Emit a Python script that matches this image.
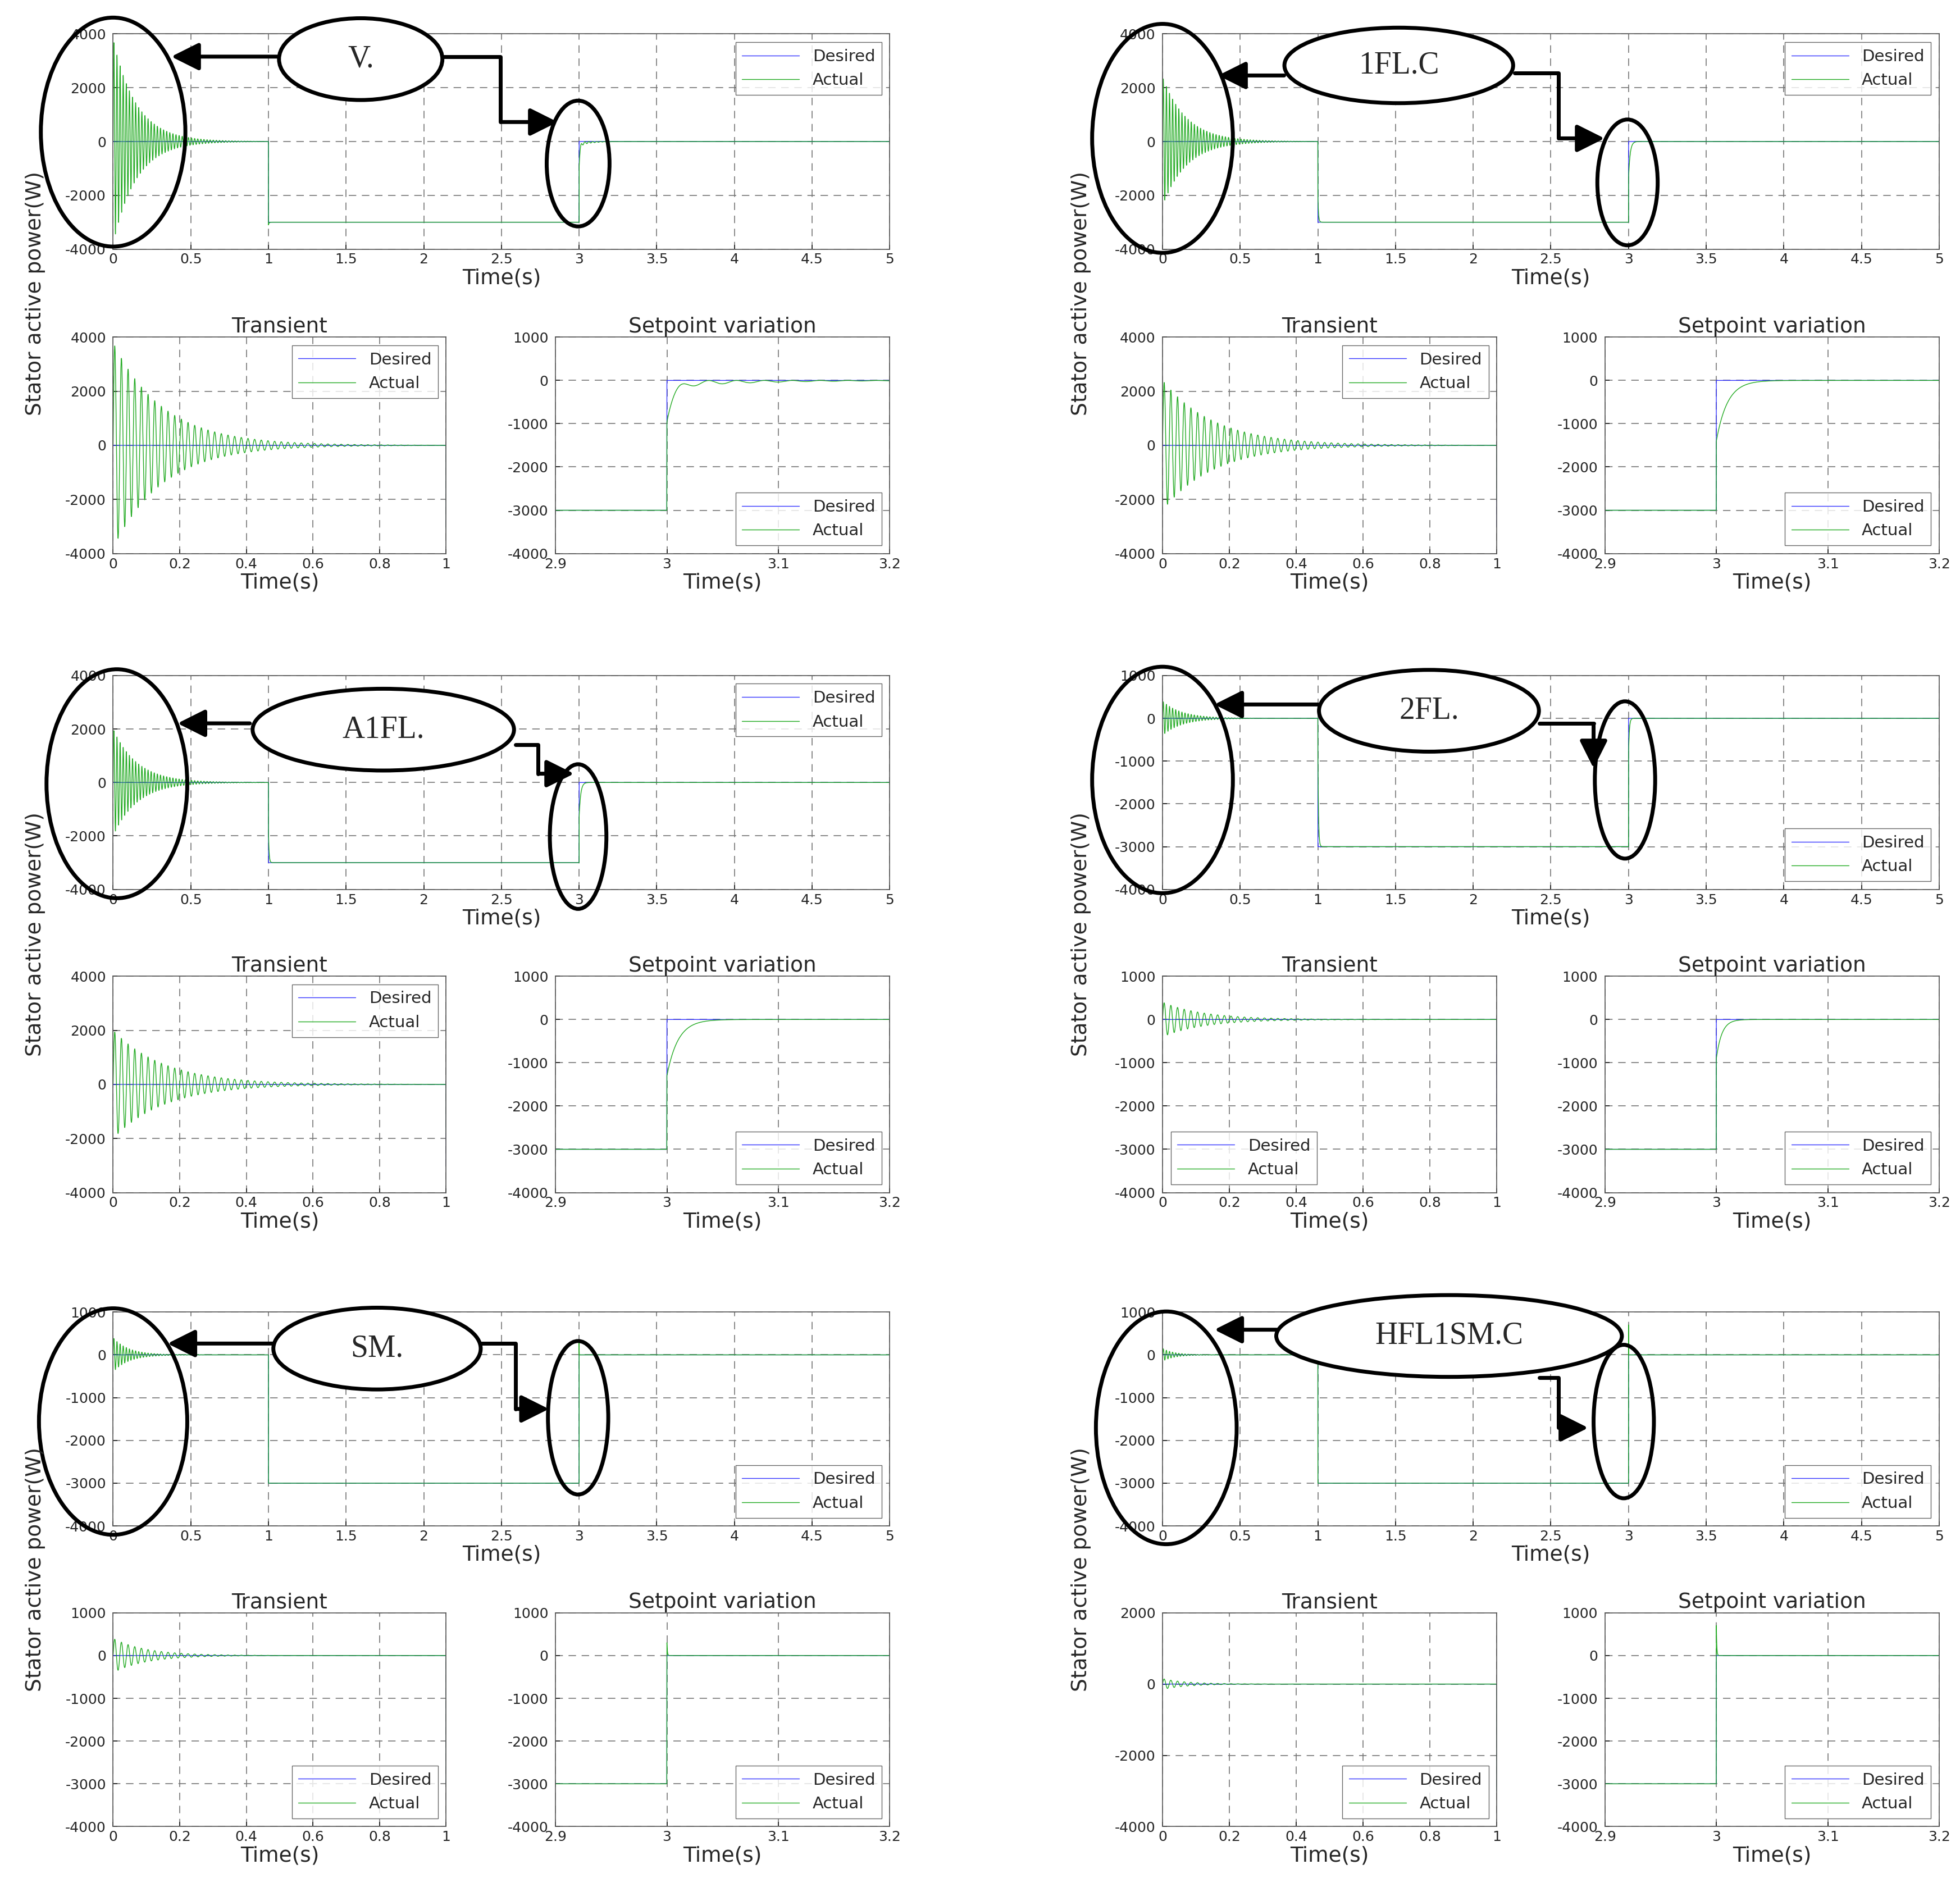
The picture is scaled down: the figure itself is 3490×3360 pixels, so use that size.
import numpy as np, pandas as pd, seaborn as sns, matplotlib
matplotlib.use("Agg")
import matplotlib.pyplot as plt
from matplotlib.patches import Ellipse

sns.set_theme(style="ticks")
plt.rcParams['font.family'] = ['DejaVu Sans']

names = ["V.", "1FL.C", "A1FL.", "2FL.", "SM.", "HFL1SM.C"]
amp0 = [3800, 2400, 2000, 400, 400, 150]        # transient start amplitude (W)
decay_end = [0.6, 0.62, 0.62, 0.5, 0.4, 0.3]   # s, transient vanishes
osc_freq = [50, 50, 50, 50, 50, 50]            # Hz
under3 = [-800, -1400, -1300, -900, 300, 700]   # value just after t=3 step
recov3 = [0.006, 0.01, 0.01, 0.005, 0.0004, 0.0004]
spike1 = [-3100, -2000, -1800, -700, -3000, -3000]
top_ylim = [(-4000, 4000)]*3 + [(-4000, 1000)]*3
bl_ylim = [(-4000, 4000)]*3 + [(-4000, 1000), (-4000, 1000), (-4000, 2000)]

W, H = 1560.0, 1500.0
fig = plt.figure(figsize=(34.91, 33.60), dpi=100)
def fx(x): return x / W
def fy(y): return 1 - y / H
def axes_px(x0, y0, x1, y1):
    return fig.add_axes([fx(x0), fy(y1), (x1 - x0) / W, (y1 - y0) / H])

t = np.arange(0, 5.0001, 1e-4)
def signals(i):
    d = np.where((t >= 1) & (t < 3), -3000.0, 0.0)
    tau = decay_end[i] / 4
    a = np.where(t < 1, amp0[i] * np.exp(-t / tau) * np.sin(2 * np.pi * osc_freq[i] * t), 0.0)
    m1 = (t >= 1) & (t < 3)
    a = a + np.where(m1, -3000 + (spike1[i] + 3000) * np.exp(-(t - 1) / 0.004), 0)
    m3 = t >= 3
    dt = t - 3
    if i == 0:
        r = under3[i] * np.exp(-dt / recov3[i]) - 160 * np.exp(-dt / 0.07) * (1 + np.cos(2 * np.pi * 40 * dt)) / 2
    else:
        r = under3[i] * np.exp(-dt / recov3[i])
    a = a + np.where(m3, r, 0)
    return d, a

fs_tick, fs_lab, fs_leg = 18, 27, 21
def style(ax, xlim, xt, ylim, yt, title=None):
    ax.set_xlim(*xlim); ax.set_ylim(*ylim)
    ax.set_xticks(xt); ax.set_yticks(yt)
    ax.set_xticklabels([("%g" % v) for v in xt], fontsize=fs_tick)
    ax.set_yticklabels([("%g" % v) for v in yt], fontsize=fs_tick)
    ax.grid(True, ls=(0, (8, 6)), color="#777777", lw=1.2)
    ax.set_xlabel("Time(s)", fontsize=fs_lab, labelpad=2)
    ax.set_ylabel("")
    for s in ax.spines.values():
        s.set_visible(True); s.set_color("#555555"); s.set_linewidth(1.2)
    ax.tick_params(direction="in", length=6, pad=5)
    ax.tick_params(axis="y", pad=9)
    if title: ax.set_title(title, fontsize=fs_lab, pad=6)

def draw(ax, i, lo, hi, loc):
    d, a = signals(i)
    m = (t >= lo) & (t <= hi)
    df = pd.DataFrame({"t": t[m], "Desired": d[m], "Actual": a[m]})
    sns.lineplot(data=df, x="t", y="Desired", ax=ax, color="#3333ff", lw=1.0, estimator=None, label="Desired")
    sns.lineplot(data=df, x="t", y="Actual", ax=ax, color="#22aa22", lw=1.0, estimator=None, label="Actual")
    leg = ax.legend(loc=loc, fontsize=fs_leg, frameon=True, fancybox=False, handlelength=3.5)
    leg.get_frame().set_edgecolor("#444444")

cols = [(90, 708, 90, 355, 442, 708), (925, 1543, 925, 1191, 1277, 1543)]
rows = [(27, 198, 268, 440), (537, 707, 776, 948), (1043, 1213, 1282, 1452)]
bl_loc = ["upper right"]*3 + ["lower left", "lower right", "lower right"]
top_loc = ["upper right"]*3 + ["lower right", "lower right", "lower right"]
for i in range(6):
    c = cols[i % 2]; r = rows[i // 2]
    ax = axes_px(c[0], r[0], c[1], r[1])
    draw(ax, i, 0, 5, top_loc[i])
    yl = top_ylim[i]
    style(ax, (0, 5), np.arange(0, 5.01, 0.5), yl, np.arange(yl[0], yl[1] + 1, 2000 if yl[1] == 4000 else 1000))
    ax2 = axes_px(c[2], r[2], c[3], r[3])
    draw(ax2, i, 0, 1, bl_loc[i])
    yl = bl_ylim[i]
    step = 2000 if (yl[1] == 4000 or i == 5) else 1000
    style(ax2, (0, 1), np.arange(0, 1.01, 0.2), yl, np.arange(yl[0], yl[1] + 1, step), "Transient")
    ax3 = axes_px(c[4], r[2], c[5], r[3])
    draw(ax3, i, 2.9, 3.2, "lower right")
    style(ax3, (2.9, 3.2), [2.9, 3.0, 3.1, 3.2], (-4000, 1000), np.arange(-4000, 1001, 1000), "Setpoint variation")
    lx = 28 if i % 2 == 0 else 860
    fig.text(fx(lx), fy((r[0] + r[3]) / 2), "Stator active power(W)", rotation=90,
             ha="center", va="center", fontsize=fs_lab)

# annotations (pixel coords in 1560x1500 frame)
big = [(90, 105, 115, 182), (925, 110, 112, 182), (93, 623, 112, 182), (925, 620, 112, 180), (90, 1130, 118, 180), (928, 1135, 112, 185)]
small = [(460, 130, 50, 100), (1295, 145, 48, 100), (460, 665, 45, 115), (1293, 620, 48, 125), (460, 1127, 48, 122), (1292, 1130, 48, 122)]
lab = [(287, 47, 130, 65), (1113, 52, 182, 60), (305, 580, 208, 65), (1137, 565, 175, 65), (300, 1072, 165, 65), (1153, 1062, 275, 65)]
larrow = [((222, 45), (135, 45)), ((1023, 60), (968, 60)), ((200, 575), (140, 575)), ((1050, 560), (965, 560)), ((218, 1068), (132, 1068)), ((1017, 1057), (965, 1057))]
paths = [[(352, 45), (398, 45), (398, 97), (445, 97)], [(1205, 58), (1240, 58), (1240, 110), (1278, 110)],
         [(410, 592), (428, 592), (428, 615), (458, 615)], [(1225, 575), (1268, 575), (1268, 612)],
         [(383, 1068), (410, 1068), (410, 1120), (438, 1120)], [(1225, 1095), (1240, 1095), (1240, 1135), (1265, 1135)]]
astyle = "-|>,head_length=1.2,head_width=0.6"
for i in range(6):
    for (x, y, w, h) in (big[i], small[i]):
        fig.add_artist(Ellipse((fx(x), fy(y)), w / W, h / H, transform=fig.transFigure, fill=False, ec="black", lw=5))
    x, y, w, h = lab[i]
    fig.add_artist(Ellipse((fx(x), fy(y)), w / W, h / H, transform=fig.transFigure, fc="white", ec="black", lw=5, zorder=5))
    fig.text(fx(x), fy(y), names[i], ha="center", va="center", fontsize=40, family="Liberation Serif", zorder=6)
    (a0, a1) = larrow[i]
    fig.add_artist(matplotlib.patches.FancyArrowPatch((fx(a0[0]), fy(a0[1])), (fx(a1[0]), fy(a1[1])), transform=fig.transFigure,
                   arrowstyle=astyle, mutation_scale=25, lw=5, color="black"))
    p = paths[i]
    xs = [fx(q[0]) for q in p[:-1]]; ys = [fy(q[1]) for q in p[:-1]]
    fig.add_artist(matplotlib.lines.Line2D(xs, ys, transform=fig.transFigure, lw=5, color="black"))
    fig.add_artist(matplotlib.patches.FancyArrowPatch((fx(p[-2][0]), fy(p[-2][1])), (fx(p[-1][0]), fy(p[-1][1])), transform=fig.transFigure,
                   arrowstyle=astyle, mutation_scale=25, lw=5, color="black"))

fig.savefig("out.png", dpi=100, facecolor="white")
